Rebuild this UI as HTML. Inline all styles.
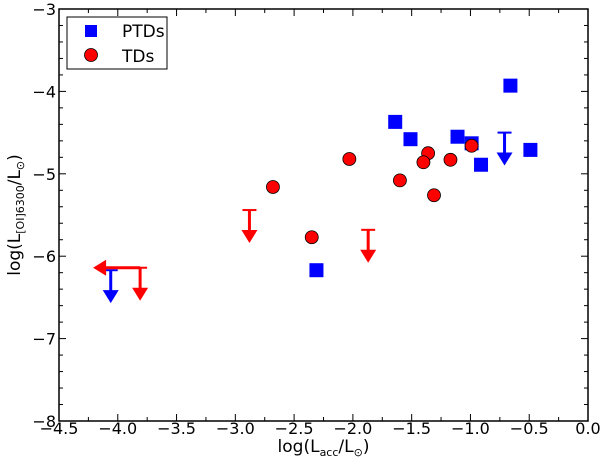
<!DOCTYPE html>
<html><head><meta charset="utf-8"><style>
body{margin:0;background:#fff}
svg text{font-family:"DejaVu Sans","Liberation Sans",sans-serif;fill:#000}
</style></head><body>
<svg id="chart" width="600" height="462" xmlns="http://www.w3.org/2000/svg"></svg>
<script>
const ptdX=[-0.66,-1.64,-1.51,-1.11,-0.99,-0.91,-0.49,-2.31];
const ptdY=[-3.93,-4.37,-4.58,-4.55,-4.63,-4.89,-4.71,-6.17];
const tdX=[-0.99,-1.36,-1.40,-1.17,-1.60,-1.31,-2.03,-2.68,-2.35];
const tdY=[-4.66,-4.75,-4.86,-4.83,-5.08,-5.26,-4.82,-5.16,-5.77];
const ptdLimX=[-4.06,-0.71];
const ptdLimY=[-6.17,-4.50];
const tdLimX=[-2.88,-1.87,-3.81];
const tdLimY=[-5.44,-5.68,-6.14];
const tdLimLeft=[false,false,true];
const xTicks=[-4.5,-4.0,-3.5,-3.0,-2.5,-2.0,-1.5,-1.0,-0.5,0.0];
const yTicks=[-3,-4,-5,-6,-7,-8];
const L=59,R=588,T=9,B=421;
const sx=v=>L+(v+4.5)/4.5*(R-L);
const sy=v=>T+(-3-v)/5*(B-T);
const svg=document.getElementById('chart');
const NS='http://www.w3.org/2000/svg';
function mk(t,a,p){const e=document.createElementNS(NS,t);for(const k in a)e.setAttribute(k,a[k]);(p||svg).appendChild(e);return e;}
const frame=mk('rect',{x:L,y:T,width:R-L,height:B-T,fill:'none',stroke:'#000','stroke-width':1.5});


xTicks.forEach((v,i)=>{const x=sx(v);
mk('line',{x1:x,x2:x,y1:B,y2:B-7,stroke:'#000'});mk('line',{x1:x,x2:x,y1:T,y2:T+7,stroke:'#000'});
if(i<xTicks.length-1){const m=sx(v+0.25);mk('line',{x1:m,x2:m,y1:B,y2:B-4,stroke:'#000'});mk('line',{x1:m,x2:m,y1:T,y2:T+4,stroke:'#000'});}
const t=mk('text',{x:x,y:B+13,'text-anchor':'middle','font-size':16});t.textContent=v.toFixed(1).replace('-','\u2212');


});
yTicks.forEach((v,i)=>{const y=sy(v);
mk('line',{x1:L,x2:L+7,y1:y,y2:y,stroke:'#000'});mk('line',{x1:R,x2:R-7,y1:y,y2:y,stroke:'#000'});
for(let k=1;k<5&&i<yTicks.length-1;k++){const m=sy(v-k*0.2);mk('line',{x1:L,x2:L+4,y1:m,y2:m,stroke:'#000'});mk('line',{x1:R,x2:R-4,y1:m,y2:m,stroke:'#000'});}
const t=mk('text',{x:L-3,y:y+6,'text-anchor':'end','font-size':16});t.textContent=String(v).replace('-','\u2212');


});
const xt=mk('text',{x:(L+R)/2,y:452,'text-anchor':'middle','font-size':17});
xt.innerHTML='log(L<tspan font-size="11" dy="4">acc</tspan><tspan dy="-4">/L</tspan><tspan font-size="11" dy="4">\u2299</tspan><tspan dy="-4">)</tspan>';


const yt=mk('text',{x:0,y:0,'text-anchor':'middle','font-size':17,transform:'translate(20,'+(T+B)/2+') rotate(-90)'});
yt.innerHTML='log(L<tspan font-size="11" dy="4">[OI]6300</tspan><tspan dy="-4">/L</tspan><tspan font-size="11" dy="4">\u2299</tspan><tspan dy="-4">)</tspan>';


function limit(x,y,col,left,name){
const g=mk('g',{});


const px=sx(x),py=sy(y),len=sy(y-0.4)-py;
mk('line',{x1:px-7,x2:px+7,y1:py,y2:py,stroke:col,'stroke-width':2},g);
mk('line',{x1:px,x2:px,y1:py,y2:py+len-12,stroke:col,'stroke-width':3},g);
mk('polygon',{points:`${px-8},${py+len-13} ${px+8},${py+len-13} ${px},${py+len}`,fill:col},g);
if(left){const lx=sx(x-0.4);
mk('line',{x1:px,x2:lx+12,y1:py,y2:py,stroke:col,'stroke-width':3},g);
mk('polygon',{points:`${lx+13},${py-8} ${lx+13},${py+8} ${lx},${py}`,fill:col},g);}
}
ptdLimX.forEach((x,i)=>limit(x,ptdLimY[i],'#0000ff',false,'ptd-upper-limit'));
tdLimX.forEach((x,i)=>limit(x,tdLimY[i],'#ff0000',tdLimLeft[i],'td-upper-limit'));
ptdX.forEach((x,i)=>{const r=mk('rect',{x:sx(x)-7,y:sy(ptdY[i])-7,width:14,height:14,fill:'#0000ff'});

});
tdX.forEach((x,i)=>{const c=mk('circle',{cx:sx(x),cy:sy(tdY[i]),r:6.5,fill:'#ff0000',stroke:'#000','stroke-width':0.8});

});
const lg=mk('g',{});


mk('rect',{x:67,y:17,width:100,height:52,fill:'#fff',stroke:'#000','stroke-width':1},lg);
mk('rect',{x:85,y:25,width:12,height:12,fill:'#0000ff'},lg);
mk('circle',{cx:91,cy:55,r:6.5,fill:'#ff0000',stroke:'#000','stroke-width':0.8},lg);
const l1=mk('text',{x:122,y:37,'font-size':17},lg);l1.textContent='PTDs';


const l2=mk('text',{x:122,y:62,'font-size':17},lg);l2.textContent='TDs';


</script>
</body></html>
